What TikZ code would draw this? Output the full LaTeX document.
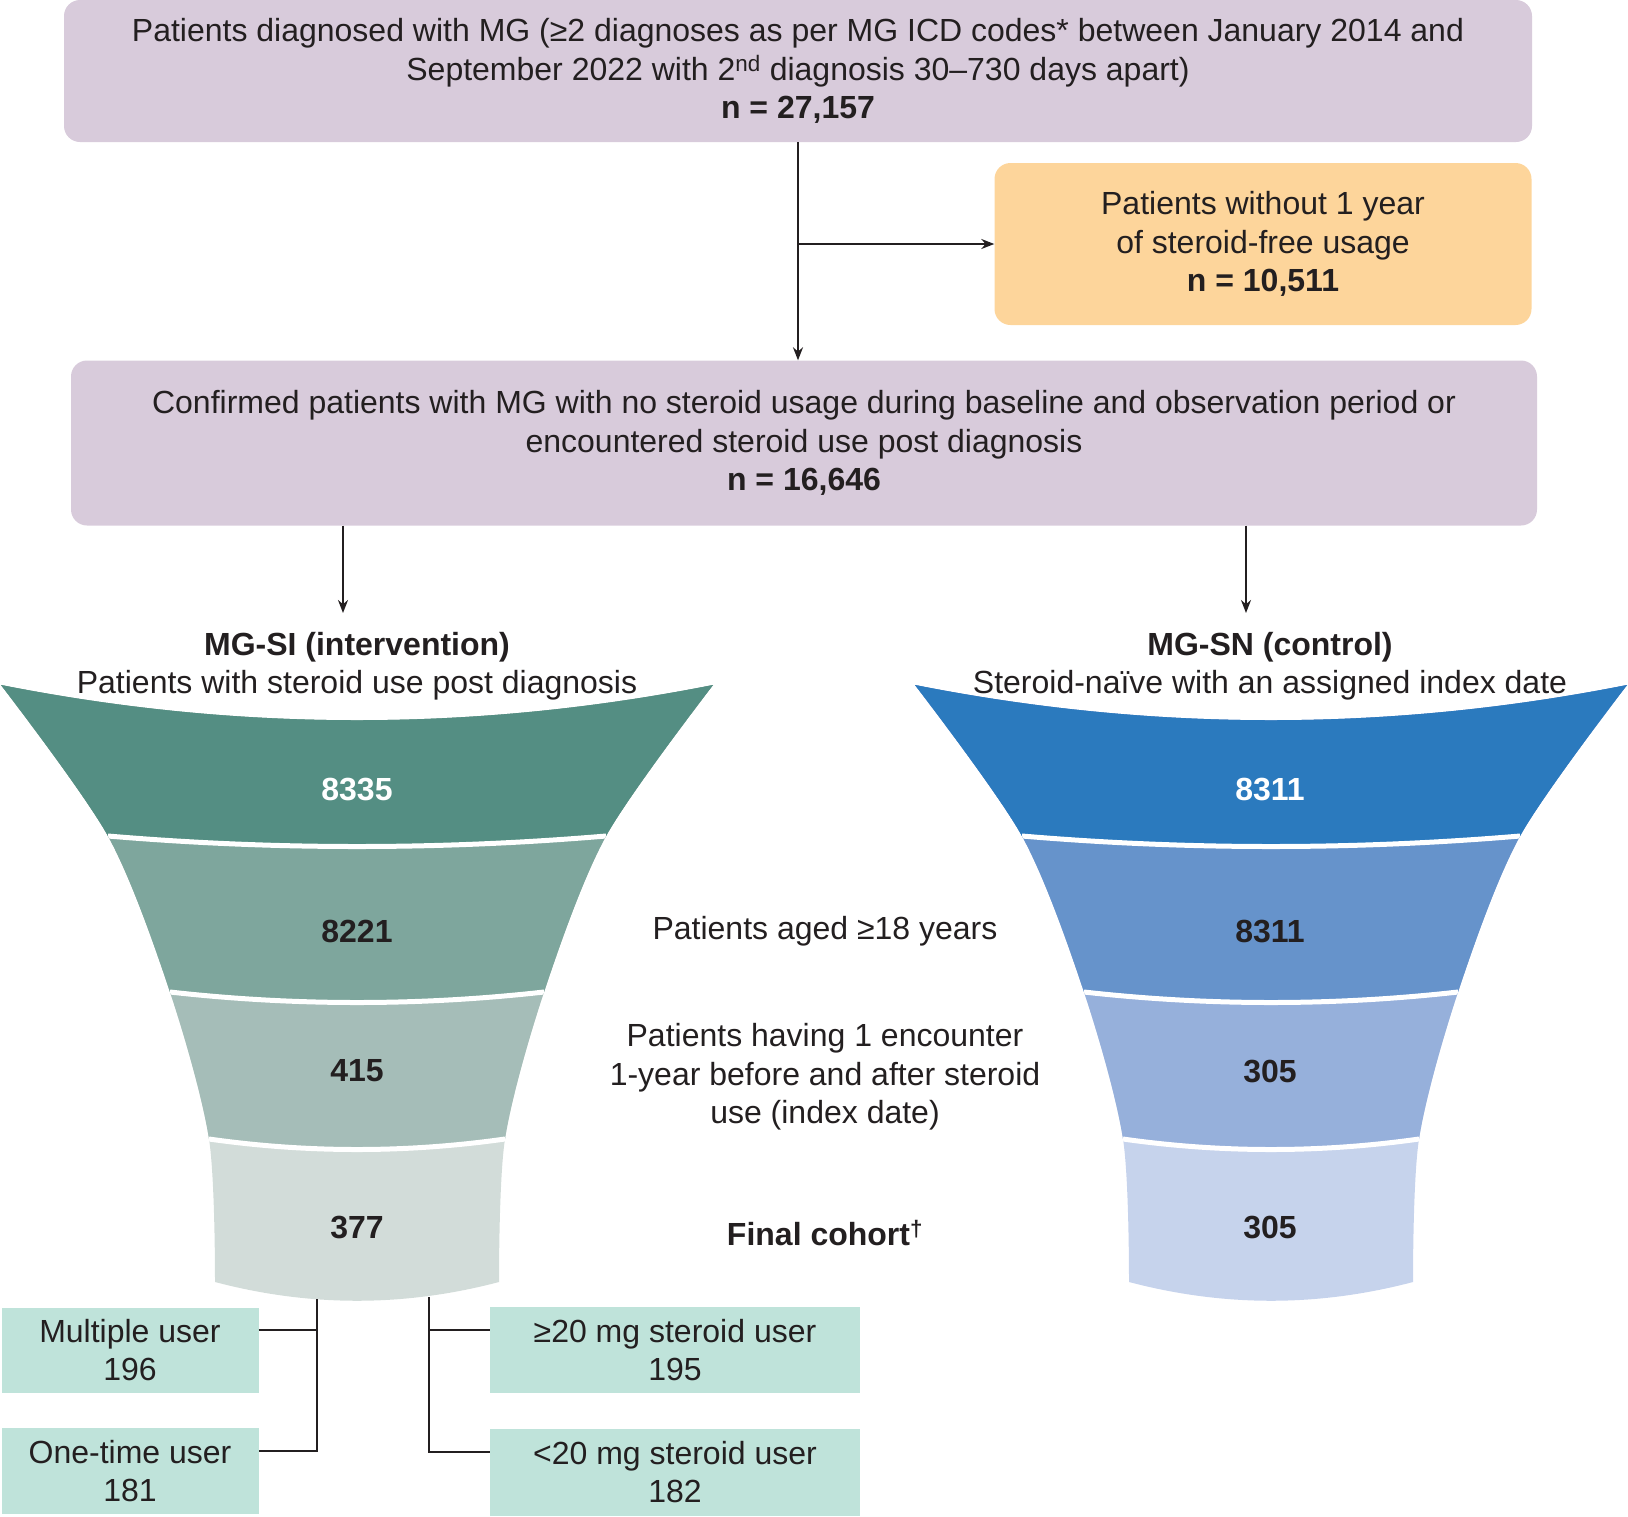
\documentclass[tikz,border=0pt]{standalone}
\usepackage{fontspec}
\setmainfont{Liberation Sans}
\usetikzlibrary{arrows.meta,positioning}
\definecolor{ink}{RGB}{35,31,32}
\definecolor{mgpurple}{RGB}{216,203,219}
\definecolor{mgorange}{RGB}{253,213,155}
\definecolor{mgmint}{RGB}{191,227,218}
\definecolor{siA}{RGB}{84,142,131}
\definecolor{siB}{RGB}{126,166,157}
\definecolor{siC}{RGB}{165,189,184}
\definecolor{siD}{RGB}{210,220,217}
\definecolor{snA}{RGB}{43,122,190}
\definecolor{snB}{RGB}{102,147,203}
\definecolor{snC}{RGB}{150,176,219}
\definecolor{snD}{RGB}{198,211,236}

\begin{document}
\begin{tikzpicture}[x=1pt,y=-1pt,>={Stealth[length=13pt,width=10pt]},
  font=\fontsize{32}{38.5}\selectfont]
\tikzset{
  mgbox/.style={fill=mgpurple,rounded corners=16pt,align=center,text=ink},
  exbox/.style={fill=mgorange,rounded corners=16pt,align=center,text=ink},
  subbox/.style={fill=mgmint,align=center,text=ink,inner sep=0pt},
  num/.style={font=\fontsize{32}{38.5}\selectfont\bfseries,text=ink},
  lbl/.style={align=center,text=ink},
  link/.style={draw=ink,line width=2pt}
}
\useasboundingbox (0,0) rectangle (1628,1516);

% funnels
\foreach \cx/\ca/\cb/\cc/\cd in {357/siA/siB/siC/siD,1271/snA/snB/snC/snD}{
  \begin{scope}[shift={(\cx,0)}]
    \clip (-356,685) .. controls (-119,732) and (119,732) .. (356,685)
      -- plot[smooth] coordinates {(356,685) (249,836) (187,992) (148,1139) (142,1282)}
      .. controls (47,1307) and (-47,1307) .. (-142,1282)
      -- plot[smooth] coordinates {(-142,1282) (-148,1139) (-187,992) (-249,836) (-356,685)}
      -- cycle;
    \fill[\cd] (-400,600) rectangle (400,1350);
    \fill[\cc] (-400,600) -- (400,600) -- (400,1139) -- (148,1139)
      .. controls (49,1153) and (-49,1153) .. (-148,1139) -- (-400,1139) -- cycle;
    \fill[\cb] (-400,600) -- (400,600) -- (400,992) -- (187,992)
      .. controls (62,1006) and (-62,1006) .. (-187,992) -- (-400,992) -- cycle;
    \fill[\ca] (-400,600) -- (400,600) -- (400,836) -- (249,836)
      .. controls (83,850) and (-83,850) .. (-249,836) -- (-400,836) -- cycle;
    \foreach \w/\yy in {249/836,187/992,148/1139}
      \draw[white,line width=5pt] (\w,\yy) .. controls ({\w/3},{\yy+14}) and ({-\w/3},{\yy+14}) .. (-\w,\yy);
  \end{scope}
}

% boxes
\node[mgbox,minimum width=1468pt,minimum height=142pt] (diag) at (798,71)
  {Patients diagnosed with MG (≥2 diagnoses as per MG ICD codes* between January 2014 and\\
   September 2022 with 2\textsuperscript{nd} diagnosis 30–730 days apart)\\ \textbf{n = 27,157}};
\node[exbox,minimum width=537pt,minimum height=162pt] (nosf) at (1263,244)
  {Patients without 1 year\\ of steroid-free usage\\ \textbf{n = 10,511}};
\node[mgbox,minimum width=1466pt,minimum height=165pt] (conf) at (804,443)
  {Confirmed patients with MG with no steroid usage during baseline and observation period or\\
   encountered steroid use post diagnosis\\ \textbf{n = 16,646}};

\node[lbl] (si) at (357,666) {\textbf{MG-SI (intervention)}\\ Patients with steroid use post diagnosis};
\node[lbl] (sn) at (1270,666) {\textbf{MG-SN (control)}\\ Steroid-naïve with an assigned index date};

\node[num,text=white] (si1) at (357,789) {8335};
\node[num] (si2) at (357,931) {8221};
\node[num] (si3) at (357,1071) {415};
\node[num] (si4) at (357,1227) {377};
\node[num,text=white] (sn1) at (1270,789) {8311};
\node[num] (sn2) at (1270,931) {8311};
\node[num] (sn3) at (1270,1071) {305};
\node[num] (sn4) at (1270,1227) {305};

\node[lbl] (age) at (825,931) {Patients aged ≥18 years};
\node[lbl] (enc) at (825,1077) {Patients having 1 encounter\\ 1-year before and after steroid\\ use (index date)};
\node[lbl,font=\fontsize{32}{38.5}\selectfont\bfseries] (fin) at (825,1233) {Final cohort\textsuperscript{\textdagger}};

\node[subbox,minimum width=257pt,minimum height=85pt] (multi) at (130,1350) {Multiple user\\ 196};
\node[subbox,minimum width=257pt,minimum height=86pt] (once) at (130,1471) {One-time user\\ 181};
\node[subbox,minimum width=370pt,minimum height=86pt] (hi) at (675,1350) {≥20 mg steroid user\\ 195};
\node[subbox,minimum width=370pt,minimum height=87pt] (lo) at (675,1472) {<20 mg steroid user\\ 182};

% connectors
\coordinate (siarr) at (343,613);
\coordinate (snarr) at (1246,613);
\coordinate (splitA) at (317,1299);
\coordinate (splitB) at (429,1297);
\draw[link,->] (diag.south) -- (diag.south |- conf.north);
\draw[link,->] (diag.south |- nosf.west) -- (nosf.west);
\draw[link,->] (conf.south -| siarr) -- (siarr);
\draw[link,->] (conf.south -| snarr) -- (snarr);
\draw[link] (splitA) |- ([yshift=20pt]once.east);
\draw[link] ([yshift=20pt]multi.east) -- ([yshift=20pt]multi.east -| splitA);
\draw[link] (splitB) |- ([yshift=20pt]lo.west);
\draw[link] ([yshift=20pt]hi.west) -- ([yshift=20pt]hi.west -| splitB);
\end{tikzpicture}
\end{document}
